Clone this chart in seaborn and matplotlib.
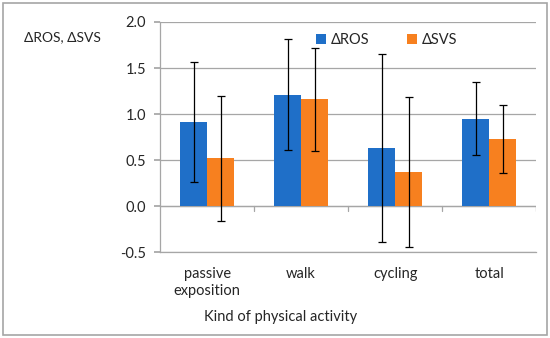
import numpy as np
import pandas as pd
import seaborn as sns
import matplotlib.pyplot as plt
from matplotlib.patches import Rectangle

# data
activities = ["passive\nexposition", "walk", "cycling", "total"]
ros_mean = [0.91, 1.21, 0.63, 0.95]
ros_err = [0.65, 0.60, 1.02, 0.40]
svs_mean = [0.52, 1.16, 0.37, 0.73]
svs_err = [0.68, 0.56, 0.81, 0.37]
series = ["\u0394ROS", "\u0394SVS"]
colors = ["#1f6fc8", "#f7801f"]

df = pd.DataFrame({
    "activity": activities * 2,
    "series": [series[0]] * 4 + [series[1]] * 4,
    "value": ros_mean + svs_mean,
    "err": ros_err + svs_err,
})

sns.set_theme(style="white")
plt.rcParams["font.family"] = ["Lato", "DejaVu Sans"]

fig = plt.figure(figsize=(5.5, 3.38), dpi=100)
ax = fig.add_axes([0.291, 0.254, 0.684, 0.681])

sns.barplot(data=df, x="activity", y="value", hue="series", palette=colors,
            width=0.575, errorbar=None, saturation=1, linewidth=0, ax=ax, zorder=3)

# error bars at the bar centres
for p, (_, row) in zip(ax.patches, df.iterrows()):
    xc = p.get_x() + p.get_width() / 2
    ax.errorbar(xc, p.get_height(), yerr=row["err"], fmt="none", ecolor="black",
                elinewidth=0.9, capsize=3, capthick=0.9, zorder=4)

ax.set_ylim(-0.5, 2.0)
ax.set_xlim(-0.5, 3.5)
ax.set_yticks(np.arange(-0.5, 2.01, 0.5))
ax.set_yticklabels([f"{v:.1f}" for v in np.arange(-0.5, 2.01, 0.5)], fontsize=10.5)
ax.yaxis.grid(True, color="#a6a6a6", linewidth=0.9, zorder=0)
ax.set_axisbelow(True)
for s in ["top", "right"]:
    ax.spines[s].set_visible(False)
for s in ["left", "bottom"]:
    ax.spines[s].set_color("#a6a6a6")
    ax.spines[s].set_linewidth(0.9)
ax.tick_params(axis="y", left=True, length=4, color="#a6a6a6", pad=6)
ax.tick_params(axis="x", bottom=False, pad=5, labelsize=10.5)

# category axis crossing at zero, with divider ticks
ax.axhline(0, color="#a6a6a6", linewidth=0.9, zorder=2)
for b in np.arange(0.5, 3.6, 1.0):
    ax.plot([b, b], [0, -0.05], color="#a6a6a6", linewidth=0.9, zorder=2)

ax.set_xlabel("Kind of physical activity", fontsize=10.5)
ax.xaxis.set_label_coords(0.32, -0.25)
ax.set_ylabel("")
fig.text(0.043, 0.89, "\u0394ROS, \u0394SVS", fontsize=10, va="center")

ax.legend(loc="center left", bbox_to_anchor=(0.38, 0.92), ncol=2, frameon=False,
          handlelength=0.7, handleheight=0.7, columnspacing=2.6, handletextpad=0.3,
          fontsize=10.5)

fig.patches.append(Rectangle((0.006, 0.01), 0.988, 0.98, transform=fig.transFigure,
                             fill=False, edgecolor="#a6a6a6", linewidth=1.2))

fig.savefig("out.png", dpi=100)
